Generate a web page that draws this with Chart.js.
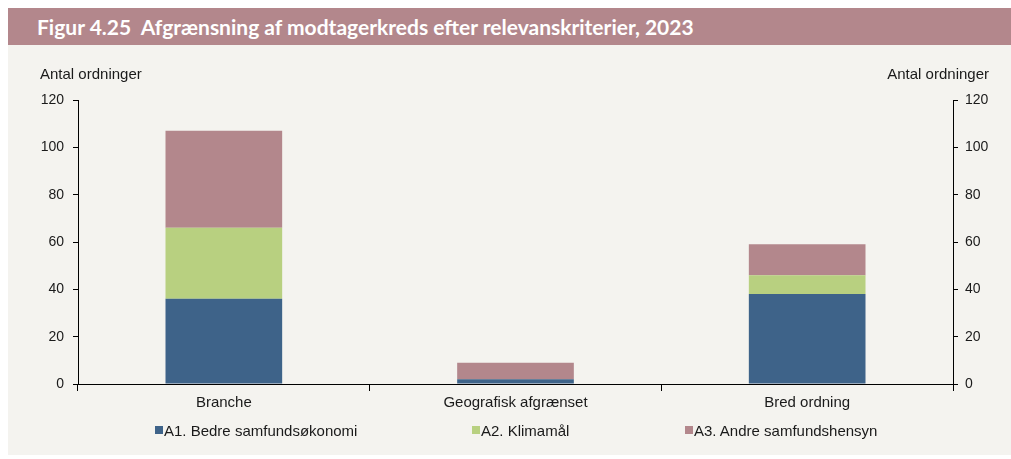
<!DOCTYPE html>
<html>
<head>
<meta charset="utf-8">
<script src="https://cdn.jsdelivr.net/npm/chart.js@4.4.1/dist/chart.umd.min.js"></script>
<style>
  body { margin: 0; background: #fff; width: 1011px; height: 459px; position: relative; overflow: hidden; }
  #title {
    position: absolute; left: 8px; top: 8px; width: 1003px; height: 37px;
    background: #b3878c; color: #fff; font: bold 21px Lato, sans-serif;
    line-height: 37px; box-sizing: border-box; padding-left: 29px;
  }
  #panel { position: absolute; left: 8px; top: 45px; width: 1003px; height: 410px; background: #f4f3ef; }
  .unit { position: absolute; top: 20px; font: 15px "Liberation Sans", Arial, sans-serif; color: #1a1a1a; }
  #canvasWrap { position: absolute; left: 0; top: 0; width: 1003px; height: 410px; }
  .legend-item { position: absolute; top: 376px; height: 18px; display: flex; align-items: center;
    font: 15px "Liberation Sans", Arial, sans-serif; color: #1a1a1a; white-space: nowrap; }
  .legend-item i { display: inline-block; width: 8px; height: 8px; margin-right: 1px; }
</style>
</head>
<body>
<div id="title">Figur 4.25&nbsp; Afgrænsning af modtagerkreds efter relevanskriterier, 2023</div>
<div id="panel">
  <div id="canvasWrap"><canvas id="myChart"></canvas></div>
  <span class="unit" style="left:32px">Antal ordninger</span>
  <span class="unit" style="right:22px">Antal ordninger</span>
  <div id="legend"></div>
</div>
<script>
// data
const categories = ['Branche', 'Geografisk afgrænset', 'Bred ordning'];
const a1Values = [36, 2, 38];
const a2Values = [30, 0, 8];
const a3Values = [41, 7, 13];
const yTicks = [0, 20, 40, 60, 80, 100, 120];

const family = '"Liberation Sans", Arial, sans-serif';
const ink = '#1a1a1a';
const legendLeft = [147, 464, 677]; // px inside the panel

const yAxis = (pos, width, pad) => ({
  position: pos,
  stacked: true,
  min: 0,
  max: 120,
  afterBuildTicks: (s) => { s.ticks = yTicks.map(v => ({ value: v })); },
  afterFit: (s) => { s.width = width; },
  ticks: { color: ink, font: { family, size: 14 }, padding: pad },
  border: { color: '#000', width: 1 },
  grid: { drawOnChartArea: false, drawTicks: true, tickLength: 5, color: '#000' },
});

const ctx = document.getElementById('myChart').getContext('2d');
const chart = new Chart(ctx, {
  type: 'bar',
  data: {
    labels: categories,
    datasets: [
      { label: 'A1. Bedre samfundsøkonomi', data: a1Values, backgroundColor: '#3e6389', yAxisID: 'y' },
      { label: 'A2. Klimamål', data: a2Values, backgroundColor: '#b8d080', yAxisID: 'y' },
      { label: 'A3. Andre samfundshensyn', data: a3Values, backgroundColor: '#b3878c', yAxisID: 'y' },
    ],
  },
  options: {
    responsive: true,
    maintainAspectRatio: false,
    animation: false,
    datasets: { bar: { categoryPercentage: 1, barPercentage: 0.4, borderWidth: 0 } },
    layout: { padding: { top: 55, bottom: 39, left: 0, right: 0 } },
    scales: {
      x: {
        stacked: true,
        afterFit: (s) => { s.height = 32; },
        ticks: { color: ink, font: { family, size: 15 }, padding: 3 },
        border: { color: '#000', width: 1 },
        grid: { offset: true, drawOnChartArea: false, drawTicks: true, tickLength: 7, color: '#000' },
      },
      y: yAxis('left', 70, 9),
      y2: yAxis('right', 58, 7),
    },
    plugins: {
      tooltip: { enabled: false },
      legend: { display: false },
    },
  },
});

// html legend built from the chart's datasets (the figure spaces its keys unevenly)
const legendEl = document.getElementById('legend');
chart.data.datasets.forEach((ds, i) => {
  const item = document.createElement('div');
  item.className = 'legend-item';
  item.style.left = legendLeft[i] + 'px';
  item.innerHTML = '<i style="background:' + ds.backgroundColor + '"></i><span></span>';
  item.querySelector('span').textContent = ds.label;
  legendEl.appendChild(item);
});
</script>
</body>
</html>
